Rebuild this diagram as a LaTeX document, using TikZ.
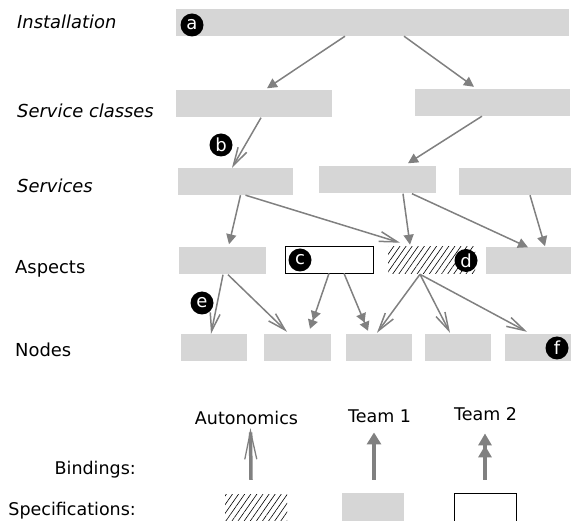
\documentclass[tikz,border=0pt]{standalone}
\usepackage{fontspec}
\setmainfont{DejaVu Sans}
\usetikzlibrary{arrows.meta,patterns.meta}
\definecolor{bargray}{HTML}{D6D6D6}
\definecolor{linkgray}{HTML}{808080}
\tikzset{
  bar/.style={fill=bargray,minimum height=27pt,inner sep=0pt},
  openbar/.style={fill=white,draw=black,line width=0.8pt,minimum height=27pt,inner sep=0pt},
  hatchbar/.style={pattern={Lines[angle=55,distance=5pt,line width=0.6pt]},minimum height=27pt,inner sep=0pt},
  badge/.style={circle,fill=black,text=white,minimum size=23pt,inner sep=0pt,font=\fontsize{18}{18}\selectfont},
  level/.style={anchor=base west,inner sep=0pt,font=\fontsize{17.9}{18}\selectfont},
  legend/.style={anchor=base,inner sep=0pt,font=\fontsize{17.5}{18}\selectfont},
  link/.style={draw=linkgray,line width=1.5pt,-{Triangle[length=10pt,width=10pt]}},
  barblink/.style={draw=linkgray,line width=1.5pt,-{Straight Barb[length=18pt,width=10pt]}},
  twolink/.style={draw=linkgray,line width=1.5pt,-{Triangle[length=9pt,width=10pt]Triangle[length=9pt,width=10pt]}}
}
\begin{document}
\begin{tikzpicture}[x=1pt,y=-1pt]
      \clip (0,0) rectangle (571,521);
      \draw
        (17,29) node[level] (linst){\itshape Installation}
        (17,118) node[level] (lclass){\itshape Service classes}
        (17,193) node[level] (lserv){\itshape Services}
        (15,274) node[level] (lasp){Aspects}
        (15,357) node[level] (lnode){Nodes};
      \draw
        (372.5,22.5) node[bar,minimum width=393pt] (inst){}
        (254,104) node[bar,minimum width=156pt] (sc1){}
        (492.5,102.5) node[bar,minimum width=155pt] (sc2){}
        (235.5,181.5) node[bar,minimum width=115pt] (s1){}
        (377.5,180) node[bar,minimum width=117pt] (s2){}
        (515,181.5) node[bar,minimum width=112pt] (s3){}
        (222.5,261) node[bar,minimum width=87pt] (a1){}
        (329,259.5) node[openbar,minimum width=88pt] (a2){}
        (431.5,260.5) node[hatchbar,minimum width=87pt] (a3){}
        (528.5,261) node[bar,minimum width=85pt] (a4){}
        (214,347.5) node[bar,minimum width=66pt] (n1){}
        (297.5,347.5) node[bar,minimum width=67pt] (n2){}
        (379,347.5) node[bar,minimum width=66pt] (n3){}
        (458,347.5) node[bar,minimum width=66pt] (n4){}
        (538,347.5) node[bar,minimum width=66pt] (n5){};
      \begin{scope}
        \draw[link] ([xshift=-27.5pt]inst.south) to ([xshift=13pt,yshift=2pt]sc1.north);
        \draw[link] ([xshift=31.5pt]inst.south) to ([xshift=-18.5pt,yshift=2pt]sc2.north);
        \draw[barblink] ([xshift=7pt]sc1.south) to ([xshift=-3.5pt]s1.north);
        \draw[link] ([xshift=-10.5pt]sc2.south) to ([xshift=30.5pt,yshift=3pt]s2.north);
        \draw[link] ([xshift=5pt]s1.south) to ([xshift=6.5pt,yshift=3pt]a1.north);
        \draw[barblink] ([xshift=10pt]s1.south) to ([xshift=-31.5pt,yshift=4pt]a3.north);
        \draw[link] ([xshift=25.5pt]s2.south) to ([xshift=-21.5pt,yshift=2pt]a3.north);
        \draw[link] ([xshift=34.5pt]s2.south) to ([xshift=-0.5pt]a4.north);
        \draw[link] ([xshift=15pt]s3.south) to ([xshift=16.5pt,yshift=1pt]a4.north);
        \draw[barblink] ([xshift=0.5pt]a1.south) to ([xshift=-3pt]n1.north);
        \draw[barblink] ([xshift=5.5pt]a1.south) to ([xshift=-10.5pt,yshift=2pt]n2.north);
        \draw[twolink] ([xshift=0pt]a2.south) to ([xshift=12.5pt,yshift=5pt]n2.north);
        \draw[twolink] ([xshift=15pt]a2.south) to ([xshift=-11pt,yshift=3pt]n3.north);
        \draw[barblink] ([xshift=-11.5pt]a3.south) to ([xshift=-2pt,yshift=1pt]n3.north);
        \draw[barblink] ([xshift=-11.5pt]a3.south) to ([xshift=-8pt,yshift=1pt]n4.north);
        \draw[barblink] ([xshift=-11.5pt]a3.south) to ([xshift=-11pt,yshift=2pt]n5.north);
      \end{scope}
      \draw
        (192,25) node[badge] (ba){a}
        (221,145) node[badge] (bb){b}
        (300,260) node[badge] (bc){c}
        (466,260.5) node[badge] (bd){d}
        (202,303) node[badge] (be){e}
        (557,348) node[badge] (bf){f};
      \draw
        (136,475) node[legend,anchor=base east] (lbind){Bindings:}
        (136,516) node[legend,anchor=base east] (lspec){Specifications:}
        (246.5,425) node[legend] (lauto){Autonomics}
        (379.5,423) node[legend] (lteam1){Team 1}
        (485.5,421) node[legend] (lteam2){Team 2}
        (256,515) node[hatchbar,minimum width=62pt,minimum height=40pt] (pauto){}
        (373,513) node[bar,minimum width=62pt,minimum height=40pt] (pteam1){}
        (485,513) node[openbar,minimum width=62pt,minimum height=40pt] (pteam2){};
      \begin{scope}[line width=3.5pt,draw=linkgray]
        \draw[-{Straight Barb[length=28pt,width=12pt,line width=1.3pt,sep=-6pt]Butt Cap}] ([xshift=-5pt,yshift=15pt]pauto.north) to ([xshift=4pt,yshift=-7pt]lauto.south);
        \draw[-{Triangle[length=12pt,width=14pt]}] ([xshift=1pt,yshift=13pt]pteam1.north) to ([xshift=-5.5pt,yshift=-9pt]lteam1.south);
        \draw[-{Triangle[length=12pt,width=13pt]Triangle[length=12pt,width=13pt]}] ([yshift=13pt]pteam2.north) to ([xshift=-0.5pt,yshift=-12pt]lteam2.south);
      \end{scope}
    \end{tikzpicture}
\end{document}
